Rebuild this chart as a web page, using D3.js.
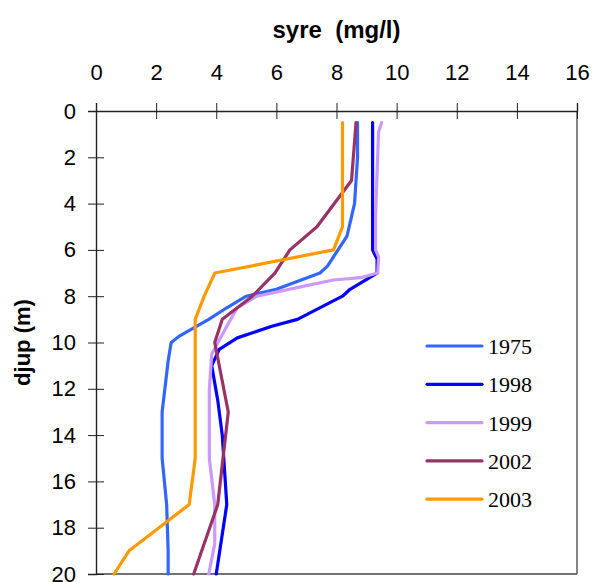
<!DOCTYPE html>
<html>
<head>
<meta charset="utf-8">
<script src="https://cdn.jsdelivr.net/npm/d3@7"></script>
<style>
  body { margin: 0; background: #fff; }
  svg { display: block; }
</style>
</head>
<body>
<div id="chart"></div>
<script>
// data: oxygen (mg/l) by depth (m), one pair of arrays per year
var years = ["1975", "1998", "1999", "2002", "2003"];
var colors = ["#3366ff", "#0000ff", "#cc99ff", "#993366", "#ff9900"];

var depth1975 = [0.5, 2, 4, 5.4, 6, 6.7, 7, 7.7, 8, 8.5, 9, 9.7, 10, 10.8, 13, 15, 17, 19, 20];
var syre1975  = [8.7, 8.7, 8.6, 8.35, 8.05, 7.7, 7.45, 6.0, 5.0, 4.35, 3.75, 2.8, 2.5, 2.4, 2.2, 2.2, 2.35, 2.4, 2.4];

var depth1998 = [0.5, 6, 6.4, 7, 7.7, 8, 9, 9.3, 9.8, 10.3, 11, 12.5, 14, 17, 20];
var syre1998  = [9.2, 9.2, 9.35, 9.35, 8.45, 8.2, 6.7, 5.85, 4.7, 4.1, 3.85, 4.05, 4.2, 4.35, 4.0];

var depth1999 = [0.5, 0.9, 4.5, 6, 6.3, 7, 7.2, 7.3, 7.6, 8, 8.5, 9.3, 10.5, 12, 15, 17, 18.7, 20];
var syre1999  = [9.5, 9.4, 9.3, 9.3, 9.4, 9.37, 8.8, 7.9, 6.8, 5.35, 4.7, 4.35, 3.85, 3.77, 3.77, 3.95, 3.95, 3.75];

var depth2002 = [0.5, 3, 5, 6, 7, 8, 9, 10, 13, 17, 20];
var syre2002  = [8.65, 8.5, 7.35, 6.45, 5.95, 5.2, 4.2, 3.95, 4.4, 4.05, 3.25];

var depth2003 = [0.5, 5, 6, 7, 8, 9, 15, 17, 19, 20];
var syre2003  = [8.2, 8.2, 7.9, 3.95, 3.6, 3.3, 3.3, 3.1, 1.1, 0.6];

var xTicks = [0, 2, 4, 6, 8, 10, 12, 14, 16];
var yTicks = [0, 2, 4, 6, 8, 10, 12, 14, 16, 18, 20];

var depths = [depth1975, depth1998, depth1999, depth2002, depth2003];
var values = [syre1975, syre1998, syre1999, syre2002, syre2003];

var width = 592, height = 582;
var margin = {top: 111, right: 15, bottom: 8, left: 96};

var svg = d3.select("#chart")
  .append("svg")
  .attr("width", width)
  .attr("height", height);

var x = d3.scaleLinear()
  .domain([0, 16])
  .range([margin.left, width - margin.right]);

var y = d3.scaleLinear()
  .domain([0, 20])
  .range([margin.top, height - margin.bottom]);

// plot frame (right and bottom)
svg.append("line")
  .attr("x1", x(16)).attr("x2", x(16))
  .attr("y1", y(0)).attr("y2", y(20))
  .style("stroke", "#444").style("stroke-width", 1.3);
svg.append("line")
  .attr("x1", x(0)).attr("x2", x(16))
  .attr("y1", y(20)).attr("y2", y(20))
  .style("stroke", "#444").style("stroke-width", 1.3);

// x axis on top, ticks crossing the line
var xAxis = svg.append("g")
  .attr("transform", `translate(0,${y(0)})`)
  .call(d3.axisTop(x).tickValues(xTicks).tickSize(8).tickPadding(23));
xAxis.selectAll(".tick line").attr("y2", 16).attr("transform", "translate(0,-8)");

// y axis on left
var yAxis = svg.append("g")
  .attr("transform", `translate(${x(0)},0)`)
  .call(d3.axisLeft(y).tickValues(yTicks).tickSize(8).tickPadding(12));
yAxis.selectAll(".tick line").attr("x2", 16).attr("transform", "translate(-8,0)");

svg.selectAll(".domain").style("stroke", "#222").style("stroke-width", 1.4);
svg.selectAll(".tick line").style("stroke", "#222").style("stroke-width", 1);
svg.selectAll(".tick text")
  .attr("font-family", "'Liberation Sans', Arial, sans-serif")
  .attr("font-size", 22)
  .attr("fill", "#000");

// titles
svg.append("text")
  .attr("x", (x(0) + x(16)) / 2)
  .attr("y", 38)
  .attr("text-anchor", "middle")
  .attr("font-family", "'Liberation Sans', Arial, sans-serif")
  .attr("font-weight", "bold")
  .attr("font-size", 24)
  .style("white-space", "pre")
  .text("syre  (mg/l)");

svg.append("text")
  .attr("transform", `translate(30,${(y(0) + y(20)) / 2}) rotate(-90)`)
  .attr("text-anchor", "middle")
  .attr("font-family", "'Liberation Sans', Arial, sans-serif")
  .attr("font-weight", "bold")
  .attr("font-size", 22)
  .text("djup (m)");

// profiles
var series = years.map(function(yr, i) {
  return {year: yr, color: colors[i],
          points: depths[i].map(function(d, j) { return {depth: d, syre: values[i][j]}; })};
});

var line = d3.line()
  .x(d => x(d.syre))
  .y(d => y(d.depth));

svg.selectAll(".profile")
  .data(series)
  .join("path")
  .attr("class", "profile")
  .attr("d", d => line(d.points))
  .style("fill", "none")
  .style("stroke", d => d.color)
  .style("stroke-width", 3.2)
  .style("stroke-linejoin", "round")
  .style("stroke-linecap", "round");

// legend
var legend = svg.selectAll(".legend")
  .data(series)
  .join("g")
  .attr("class", "legend")
  .attr("transform", (d, i) => `translate(427,${346 + i * 38.3})`);

legend.append("line")
  .attr("x1", 0).attr("x2", 55)
  .attr("y1", 0).attr("y2", 0)
  .style("stroke", d => d.color)
  .style("stroke-width", 3.2)
  .style("stroke-linecap", "round");

legend.append("text")
  .attr("x", 61)
  .attr("y", 8)
  .attr("font-family", "'Liberation Serif', 'Times New Roman', serif")
  .attr("font-size", 22)
  .text(d => d.year);
</script>
</body>
</html>
